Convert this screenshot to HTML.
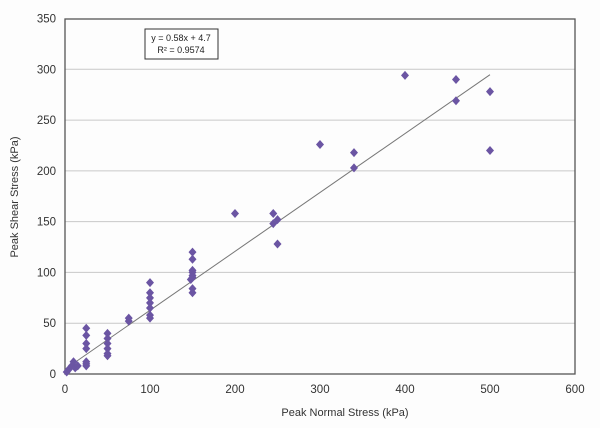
<!DOCTYPE html>
<html><head><meta charset="utf-8"><style>
html,body{margin:0;padding:0;background:#fff;}
svg{display:block;font-family:"Liberation Sans",sans-serif;}
</style></head><body>
<svg id="c" width="600" height="428" viewBox="0 0 600 428" xmlns="http://www.w3.org/2000/svg">
<rect width="600" height="428" fill="#fdfdfd"/>
<g id="grid" stroke="#c8c8c8" stroke-width="1"></g>
<rect x="65" y="19" width="510" height="355" fill="none" stroke="#555" stroke-width="1.3"/>
<g id="lab" font-size="11.5" fill="#333"></g>
<line id="fit" stroke="#777" stroke-width="1"/>
<g id="pts" fill="#6b55a3"></g>
<rect x="145" y="29" width="73" height="30" fill="#fff" stroke="#333" stroke-width="1"/>
<text x="181" y="41" font-size="9" text-anchor="middle" fill="#222">y = 0.58x + 4.7</text>
<text x="181" y="53" font-size="9" text-anchor="middle" fill="#222">R² = 0.9574</text>
<text x="345" y="416" font-size="11" text-anchor="middle" fill="#333">Peak Normal Stress (kPa)</text>
<text transform="translate(18,197) rotate(-90)" font-size="11" text-anchor="middle" fill="#333">Peak Shear Stress (kPa)</text>
</svg>
<script>
var X=function(v){return 65+v*0.85},Y=function(v){return 374-v*1.0157};
var ns="http://www.w3.org/2000/svg",g=document.getElementById('grid'),l=document.getElementById('lab');
function el(p,t,a,txt){var e=document.createElementNS(ns,t);for(var k in a)e.setAttribute(k,a[k]);if(txt!=null)e.textContent=txt;p.appendChild(e);return e;}
for(var v=0;v<=350;v+=50){if(v>0&&v<350)el(g,'line',{x1:65,x2:575,y1:Y(v),y2:Y(v)});el(l,'text',{x:56,y:Y(v)+4,'text-anchor':'end'},v);}
for(var v=0;v<=600;v+=100)el(l,'text',{x:X(v),y:393,'text-anchor':'middle'},v);
var f=document.getElementById('fit');f.setAttribute('x1',X(0));f.setAttribute('y1',Y(4.7));f.setAttribute('x2',X(500));f.setAttribute('y2',Y(294.7));
var d=[[2,2],[5,5],[8,8],[10,12],[12,6],[15,8],[25,45],[25,38],[25,30],[25,25],[25,12],[25,10],[25,8],[50,40],[50,35],[50,30],[50,25],[50,20],[50,18],[75,55],[75,52],[100,90],[100,80],[100,75],[100,70],[100,65],[100,58],[100,55],[150,120],[150,113],[150,102],[150,100],[150,97],[150,95],[148,93],[150,84],[150,80],[200,158],[245,158],[245,148],[250,152],[250,128],[300,226],[340,218],[340,203],[400,294],[460,290],[460,269],[500,278],[500,220]];
var p=document.getElementById('pts');
d.forEach(function(q){var x=X(q[0]),y=Y(q[1]);el(p,'polygon',{points:(x)+','+(y-4.5)+' '+(x+4)+','+y+' '+x+','+(y+4.5)+' '+(x-4)+','+y});});
</script>
</body></html>
